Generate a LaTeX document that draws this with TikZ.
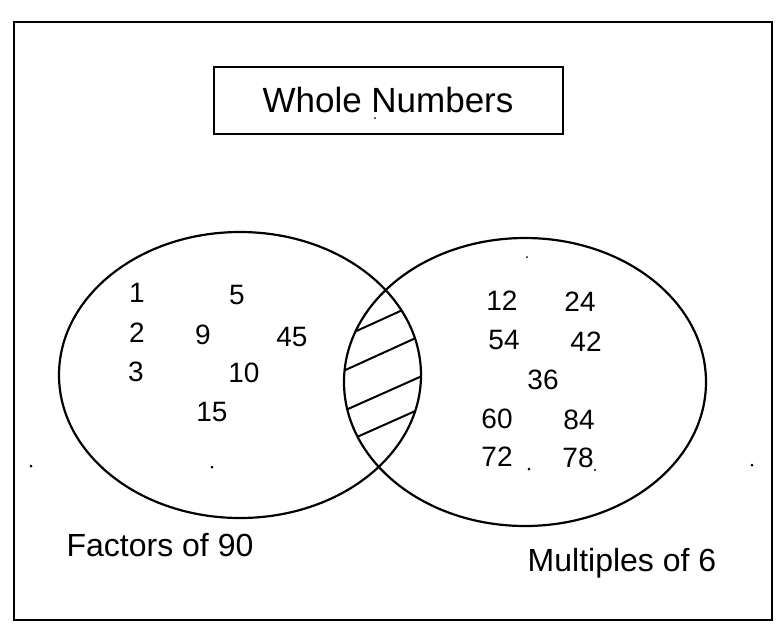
\documentclass[tikz,border=0pt]{standalone}
\usepackage{fontspec}
\setmainfont{Liberation Sans}
\usepackage{tikz}
\usetikzlibrary{positioning}

\begin{document}
\begin{tikzpicture}[x=0.5pt, y=-0.5pt, thick,
                    num/.style={inner sep=0pt, font=\fontsize{14}{17}\selectfont},
                    setlabel/.style={inner sep=0pt, font=\fontsize{16}{19}\selectfont},
                    setline/.style={line width=1.1pt},
                    hatch/.style={line width=1pt}]
    \useasboundingbox (0,0) rectangle (777,628);

    % Frame and title
    \draw[line width=1.3pt] (14,22) rectangle (772,620);
    \node[draw, line width=1pt, minimum width=174.5pt, minimum height=33.5pt,
          font=\fontsize{17.5}{20}\selectfont] (title) at (388,100) {Whole Numbers};

    % Sets
    \draw[setline] (240,375) ellipse [x radius=181, y radius=143];
    \draw[setline] (525,382) ellipse [x radius=181, y radius=144];

    % Overlap (empty, hatched)
    \begin{scope}
        \clip (240,375) ellipse [x radius=181, y radius=143];
        \clip (525,382) ellipse [x radius=181, y radius=144];
        \draw[hatch] (330,343) -- (440,293);
        \draw[hatch] (330,377) -- (440,327);
        \draw[hatch] (330,417) -- (440,368);
        \draw[hatch] (330,449) -- (440,400);
    \end{scope}

    % Factors of 90
    \node[num] (f1)  at (137,293) {1};
    \node[num] (f5)  at (237,295) {5};
    \node[num] (f2)  at (137,333) {2};
    \node[num] (f9)  at (203,335) {9};
    \node[num] (f45) at (292,337) {45};
    \node[num] (f3)  at (136,372) {3};
    \node[num] (f10) at (244,373) {10};
    \node[num] (f15) at (212,412) {15};

    % Multiples of 6
    \node[num] (m12) at (502,301) {12};
    \node[num] (m24) at (580,302) {24};
    \node[num] (m54) at (504,340) {54};
    \node[num] (m42) at (586,342) {42};
    \node[num] (m36) at (543,380) {36};
    \node[num] (m60) at (497,419) {60};
    \node[num] (m84) at (579,420) {84};
    \node[num] (m72) at (497,457) {72};
    \node[num] (m78) at (578,458) {78};

    % Set names
    \node[setlabel] (factors)   at (160,545) {Factors of 90};
    \node[setlabel] (multiples) at (622,563) {Multiples of 6};

    % Specks
    \fill (31,466) circle [radius=1.5];
    \fill (212,467) circle [radius=1.5];
    \fill (529,469) circle [radius=1.5];
    \fill (595,470) circle [radius=1.2];
    \fill (752,465) circle [radius=1.5];
    \fill (527,257) circle [radius=1];
    \fill (375,118) circle [radius=1];

\end{tikzpicture}
\end{document}
